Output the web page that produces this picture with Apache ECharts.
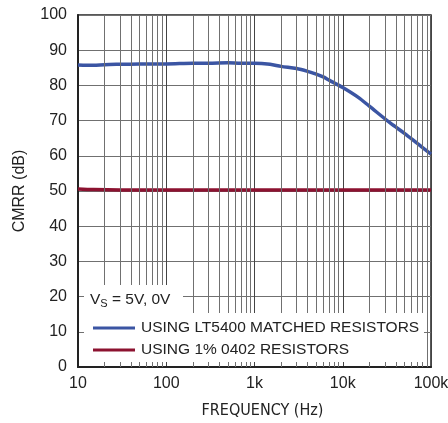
<!DOCTYPE html>
<html>
<head>
  <meta charset="UTF-8">
  <title>CMRR vs Frequency</title>
  <style>
    html, body { margin: 0; padding: 0; background: #fff; }
    #chart { width: 448px; height: 423px; }
  </style>
</head>
<body>
  <div id="chart"></div>
  <script src="https://cdn.jsdelivr.net/npm/echarts@6/dist/echarts.min.js"></script>
  <script>
    // LT5400 matched resistors
    const freqA = [10, 15, 20, 30, 50, 100, 200, 300, 500, 700, 1000, 1500, 2000, 3000, 4000, 5000, 6000, 7000, 10000, 15000, 20000, 35000, 50000, 70000, 100000];
    const cmrrA = [85.8, 85.7, 85.9, 86.0, 86.1, 86.1, 86.3, 86.3, 86.4, 86.3, 86.3, 86.0, 85.4, 84.8, 84.0, 83.2, 82.4, 81.5, 79.4, 76.6, 74.1, 69.2, 66.4, 63.5, 60.5];
    // 1% 0402 resistors
    const freqB = [10, 15, 30, 100, 1000, 10000, 100000];
    const cmrrB = [50.6, 50.4, 50.3, 50.3, 50.3, 50.3, 50.3];

    const seriesNames = ['USING LT5400 MATCHED RESISTORS', 'USING 1% 0402 RESISTORS'];
    const xTickLabels = { 10: '10', 100: '100', 1000: '1k', 10000: '10k', 100000: '100k' };
    const minorFreqs = [20, 30, 40, 50, 60, 70, 80, 90, 200, 300, 400, 500, 600, 700, 800, 900,
      2000, 3000, 4000, 5000, 6000, 7000, 8000, 9000, 20000, 30000, 40000, 50000, 60000, 70000, 80000, 90000];

    const gridColor = '#707070';
    const font = "'Liberation Sans', Arial, sans-serif";
    const narrow = "'Liberation Sans Narrow', 'Arial Narrow', 'DejaVu Sans Condensed', sans-serif";

    const chart = echarts.init(document.getElementById('chart'));
    const option = {
      animation: false,
      backgroundColor: '#fff',
      grid: {
        left: 78, right: 17, top: 15, bottom: 56,
        show: true, borderColor: '#222', borderWidth: 1.5,
        outerBoundsMode: 'none'
      },
      xAxis: {
        type: 'log',
        logBase: 10,
        min: 10,
        max: 100000,
        name: 'FREQUENCY (Hz)',
        nameLocation: 'middle',
        nameGap: 36,
        nameTextStyle: { fontFamily: narrow, fontSize: 16, color: '#222', padding: [0, 0, 0, 16] },
        axisLine: { lineStyle: { color: '#222', width: 2 } },
        axisTick: { show: false },
        axisLabel: {
          margin: 9,
          fontFamily: font, fontSize: 16, color: '#222',
          formatter: v => xTickLabels[Math.round(v)] || ''
        },
        splitLine: { show: true, lineStyle: { color: '#444', width: 1 } }
      },
      yAxis: {
        type: 'value',
        min: 0,
        max: 100,
        interval: 10,
        name: 'CMRR (dB)',
        nameLocation: 'middle',
        nameGap: 50,
        nameTextStyle: { fontFamily: font, fontSize: 16, color: '#222' },
        axisLine: { show: true, lineStyle: { color: '#222', width: 2 } },
        axisTick: { show: false },
        axisLabel: { margin: 11, fontFamily: font, fontSize: 16, color: '#222' },
        splitLine: { show: true, lineStyle: { color: gridColor, width: 1 } }
      },
      legend: {
        orient: 'vertical',
        left: 88,
        top: 313,
        itemWidth: 42,
        itemHeight: 3,
        itemGap: 2,
        icon: 'rect',
        z: 12,
        textStyle: { fontFamily: font, fontSize: 15.5, color: '#222', lineHeight: 20, padding: [0, 0, 0, 1] },
        data: seriesNames
      },
      graphic: [
        { type: 'rect', z: 10, shape: { x: 84, y: 285, width: 99, height: 77 }, style: { fill: '#fff' } },
        { type: 'rect', z: 10, shape: { x: 84, y: 313, width: 340, height: 49 }, style: { fill: '#fff' } },
        {
          type: 'text', z: 11, left: 90, top: 292,
          style: {
            text: 'V{s|S} = 5V, 0V',
            fontFamily: font, fontSize: 15.5, fill: '#222',
            rich: { s: { fontFamily: font, fontSize: 11, fill: '#222', padding: [7, 0, 0, 0] } }
          }
        }
      ],
      series: [
        {
          name: seriesNames[0],
          type: 'line',
          showSymbol: false,
          smooth: 0.3,
          color: '#3b55a3',
          lineStyle: { width: 3.5 },
          data: freqA.map((f, i) => [f, cmrrA[i]]),
          markLine: {
            silent: true,
            symbol: 'none',
            label: { show: false },
            lineStyle: { color: gridColor, width: 1, type: 'solid' },
            data: minorFreqs.map(f => ({ xAxis: f }))
          },
          z: 3
        },
        {
          name: seriesNames[1],
          type: 'line',
          showSymbol: false,
          smooth: 0.3,
          color: '#8c1230',
          lineStyle: { width: 3.5 },
          data: freqB.map((f, i) => [f, cmrrB[i]]),
          z: 4
        }
      ]
    };
    chart.setOption(option);
  </script>
</body>
</html>
